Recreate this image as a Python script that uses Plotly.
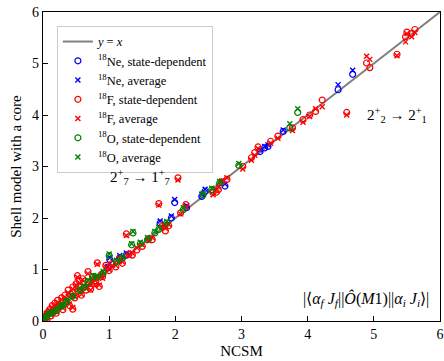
import plotly.graph_objects as go

# 18Ne: NCSM value, state-dependent, average
ne_ncsm = [0.98, 1.01, 1.16, 1.26, 1.77, 1.94, 1.99, 2.17, 2.40, 2.45, 2.75, 3.28, 3.35, 3.40, 3.63, 4.46, 4.68]
ne_sd   = [1.03, 1.19, 1.23, 1.28, 1.90, 2.00, 2.30, 2.20, 2.42, 2.52, 2.62, 3.29, 3.36, 3.39, 3.68, 4.49, 4.79]
ne_avg  = [1.06, 1.23, 1.27, 1.32, 1.94, 2.04, 2.36, 2.24, 2.46, 2.56, 2.66, 3.32, 3.39, 3.42, 3.71, 4.59, 4.87]

# 18F
f_ncsm = [0.01, 0.03, 0.05, 0.06, 0.08, 0.10, 0.12, 0.14, 0.16, 0.18, 0.20, 0.22, 0.25, 0.28, 0.30, 0.33,
          0.35, 0.38, 0.40, 0.42, 0.45, 0.45, 0.48, 0.50, 0.52, 0.53, 0.55, 0.58, 0.60, 0.62, 0.65, 0.68,
          0.70, 0.72, 0.75, 0.78, 0.80, 0.82, 0.85, 0.88, 0.90, 0.95, 1.00, 1.05, 1.10, 1.15, 1.20, 1.26,
          1.30, 1.35, 1.42, 1.50, 1.60, 1.65, 1.75, 1.80, 1.84, 1.85, 1.90, 2.04, 2.08, 2.16, 2.57, 2.62,
          2.65, 2.70, 2.78, 3.02, 3.15, 3.20, 3.25, 3.44, 3.55, 3.77, 3.93, 4.03, 4.12, 4.22, 4.59, 4.89,
          4.94, 5.35, 5.48, 5.50, 5.57, 5.62]
f_sd = [0.02, 0.08, 0.12, 0.03, 0.18, 0.22, 0.10, 0.30, 0.20, 0.35, 0.15, 0.40, 0.30, 0.45, 0.22, 0.50,
        0.38, 0.60, 0.30, 0.52, 0.23, 0.66, 0.45, 0.72, 0.88, 0.58, 0.78, 0.50, 0.82, 0.66, 0.60, 0.96,
        0.74, 0.62, 0.85, 0.72, 0.78, 1.13, 0.67, 0.90, 0.86, 1.08, 0.98, 1.12, 1.05, 1.20, 1.12, 1.69,
        1.30, 1.28, 1.38, 1.45, 1.60, 1.58, 2.28, 1.85, 1.84, 1.75, 1.85, 2.78, 2.10, 2.26, 2.49, 2.50,
        2.55, 2.70, 2.75, 3.00, 3.17, 3.27, 3.38, 3.49, 3.59, 3.75, 3.91, 4.00, 4.07, 4.29, 4.05, 5.01,
        4.92, 5.18, 5.52, 5.61, 5.58, 5.66]
f_avg = [0.03, 0.05, 0.15, 0.06, 0.14, 0.20, 0.12, 0.26, 0.24, 0.30, 0.18, 0.36, 0.28, 0.42, 0.25, 0.46,
         0.40, 0.55, 0.33, 0.50, 0.26, 0.62, 0.48, 0.70, 0.85, 0.60, 0.74, 0.52, 0.80, 0.68, 0.63, 0.92,
         0.72, 0.60, 0.82, 0.70, 0.82, 1.10, 0.70, 0.88, 0.83, 1.05, 1.00, 1.08, 1.08, 1.16, 1.15, 1.66,
         1.27, 1.32, 1.42, 1.48, 1.56, 1.62, 2.25, 1.82, 1.88, 1.80, 1.88, 2.74, 2.08, 2.22, 2.45, 2.55,
         2.60, 2.72, 2.78, 2.95, 3.12, 3.22, 3.35, 3.45, 3.55, 3.70, 3.86, 3.97, 4.12, 4.16, 4.00, 5.14,
         5.08, 5.15, 5.42, 5.58, 5.52, 5.60]

# 18O
o_ncsm = [0.02, 0.05, 0.10, 0.15, 0.20, 0.26, 0.30, 0.36, 0.45, 0.56, 0.62, 0.68, 0.76, 0.82, 0.91, 1.00,
          1.11, 1.20, 1.34, 1.36, 1.47, 1.58, 1.69, 1.75, 1.87, 2.12, 2.42, 2.55, 2.67, 2.96, 3.73, 3.85]
o_sd   = [0.04, 0.08, 0.14, 0.16, 0.20, 0.28, 0.30, 0.38, 0.48, 0.60, 0.65, 0.76, 0.86, 0.85, 0.93, 1.27,
          1.15, 1.22, 1.48, 1.71, 1.50, 1.58, 1.71, 1.78, 1.90, 2.16, 2.45, 2.55, 2.68, 3.02, 3.75, 4.05]
o_avg  = [0.06, 0.10, 0.16, 0.18, 0.22, 0.30, 0.32, 0.40, 0.50, 0.62, 0.68, 0.79, 0.88, 0.88, 0.96, 1.30,
          1.18, 1.25, 1.50, 1.74, 1.53, 1.62, 1.74, 1.82, 1.93, 2.20, 2.48, 2.58, 2.71, 3.06, 3.83, 4.12]

diag = [0, 6]
ticks = [0, 1, 2, 3, 4, 5, 6]

SERIF = "Liberation Serif, Times New Roman, serif"

fig = go.Figure()
fig.add_trace(go.Scatter(x=diag, y=diag, mode="lines", line=dict(color="#808080", width=2),
                         name="<i>y</i> = <i>x</i>"))

series = [
    ("Ne", "blue", ne_ncsm, ne_sd, ne_avg),
    ("F", "red", f_ncsm, f_sd, f_avg),
    ("O", "green", o_ncsm, o_sd, o_avg),
]
for nuc, col, xs, sd, av in series:
    fig.add_trace(go.Scatter(x=xs, y=sd, mode="markers",
                             marker=dict(symbol="circle-open", size=6, color=col, line=dict(width=1.2, color=col)),
                             name=f"<sup>18</sup>{nuc}, state-dependent"))
    fig.add_trace(go.Scatter(x=xs, y=av, mode="markers",
                             marker=dict(symbol="x-thin-open", size=5, color=col, line=dict(width=1.4, color=col)),
                             name=f"<sup>18</sup>{nuc}, average"))

fig.add_annotation(x=1.47, y=2.8, text="2<sup>+</sup><sub>7</sub> → 1<sup>+</sup><sub>7</sub>",
                   showarrow=False, font=dict(family=SERIF, size=15, color="black"))
fig.add_annotation(x=5.35, y=4.0, text="2<sup>+</sup><sub>2</sub> → 2<sup>+</sup><sub>1</sub>",
                   showarrow=False, font=dict(family=SERIF, size=15, color="black"))
fig.add_annotation(x=5.86, y=0.42, xanchor="right",
                   text="|⟨<i>α<sub>f</sub> J<sub>f</sub></i>||<i>Ô</i>(<i>M</i>1)||<i>α<sub>i</sub> J<sub>i</sub></i>⟩|",
                   showarrow=False, font=dict(family=SERIF, size=16, color="black"))

axis_common = dict(range=[0, 6], tickvals=ticks, ticks="inside", ticklen=5, tickwidth=1,
                   tickcolor="black", showline=True, linecolor="black", linewidth=1.2, mirror=True,
                   showgrid=False, zeroline=False, automargin=False,
                   tickfont=dict(family=SERIF, size=14, color="black"))

fig.update_layout(
    width=444, height=361,
    margin=dict(l=43, r=4, t=12, b=40),
    plot_bgcolor="white", paper_bgcolor="white",
    font=dict(family=SERIF, size=14, color="black"),
    xaxis=dict(title=dict(text="NCSM", font=dict(family=SERIF, size=15), standoff=4), **axis_common),
    yaxis=dict(title=dict(text="Shell model with a core", font=dict(family=SERIF, size=15), standoff=6),
               **axis_common),
    legend=dict(x=0.035, y=0.955, xanchor="left", yanchor="top",
                bgcolor="rgba(255,255,255,0.8)", bordercolor="#cccccc", borderwidth=1,
                font=dict(family=SERIF, size=12.5, color="black"), tracegroupgap=0,
                itemwidth=30),
    showlegend=True,
)

fig.write_html("out.html")
